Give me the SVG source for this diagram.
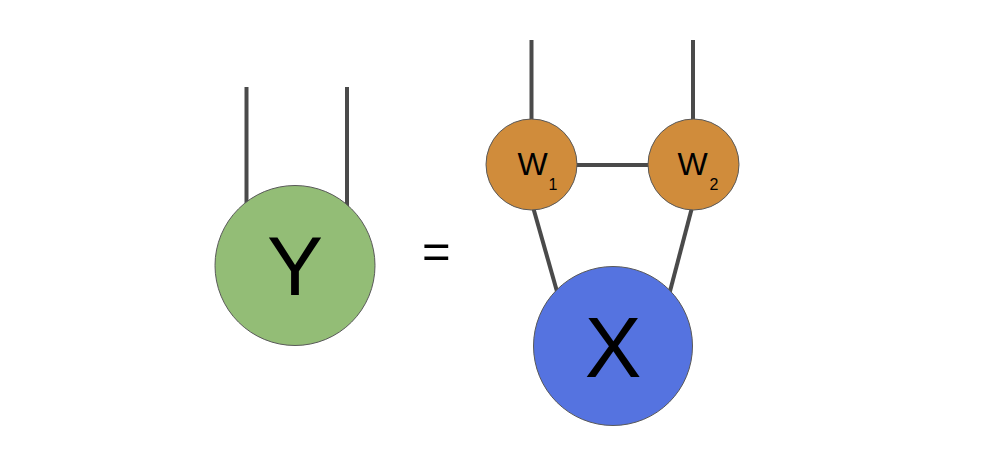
<svg xmlns="http://www.w3.org/2000/svg" width="982" height="453" viewBox="0 0 982 453">
<style>
.edge{stroke:#4a4a4a;stroke-width:4;fill:none}
.node{stroke:#595959;stroke-width:1}
.lbl{font-family:"Liberation Sans",Arial,sans-serif;fill:#000;text-anchor:middle}
</style>
<rect width="982" height="453" fill="#fff"/>
<g id="connectors">
<line class="edge" x1="246.5" y1="87" x2="246.5" y2="215"/>
<line class="edge" x1="347" y1="87" x2="347" y2="215"/>
<line class="edge" x1="531.5" y1="40" x2="531.5" y2="130"/>
<line class="edge" x1="693" y1="40" x2="693" y2="130"/>
<line class="edge" x1="560" y1="165" x2="660" y2="165"/>
<line class="edge" x1="531" y1="200" x2="558" y2="295"/>
<line class="edge" x1="694" y1="200" x2="669" y2="295"/>
</g>
<g id="Y">
<circle class="node" cx="295" cy="265.5" r="80" fill="#93bd76"/>
<text class="lbl" x="295" y="295" font-size="84">Y</text>
</g>
<g id="eq">
<text class="lbl" x="436.3" y="268" font-size="49">=</text>
</g>
<g id="W1">
<circle class="node" cx="531.5" cy="164.5" r="45.5" fill="#d08c3b"/>
<text class="lbl" x="532.5" y="175" font-size="32">W</text>
<text class="lbl" x="553" y="189.5" font-size="16">1</text>
</g>
<g id="W2">
<circle class="node" cx="693.5" cy="164.5" r="45.5" fill="#d08c3b"/>
<text class="lbl" x="692.5" y="175" font-size="32">W</text>
<text class="lbl" x="714" y="189.5" font-size="16">2</text>
</g>
<g id="X">
<circle class="node" cx="613" cy="346" r="79.5" fill="#5573e0"/>
<text class="lbl" x="613" y="377" font-size="85">X</text>
</g>
</svg>
